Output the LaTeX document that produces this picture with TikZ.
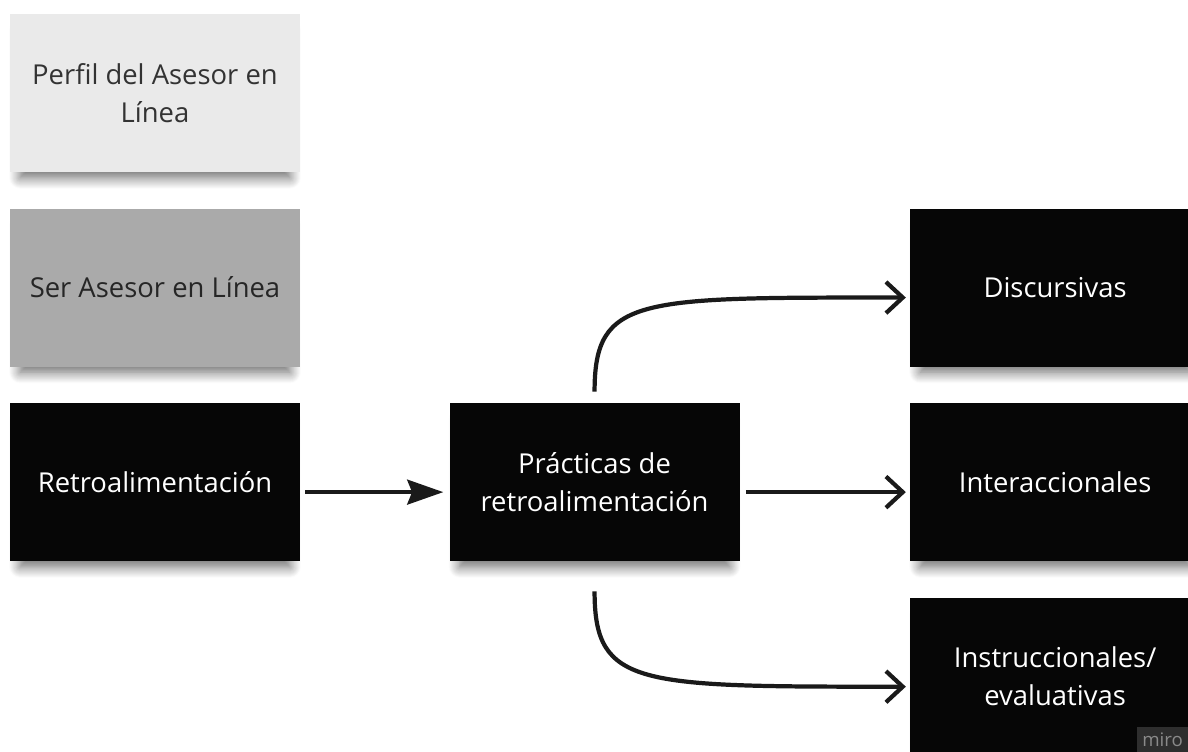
\documentclass[tikz,border=0pt]{standalone}
\usepackage{fontspec}
\setmainfont{Open Sans}
\usetikzlibrary{positioning,shadows.blur,arrows.meta}
\definecolor{grisclaro}{HTML}{EAEAEA}
\definecolor{grismedio}{HTML}{AAAAAA}
\definecolor{casinegro}{HTML}{060606}
\definecolor{trazo}{HTML}{1A1A1A}
\definecolor{marca}{HTML}{2E2E2E}
\definecolor{marcatexto}{HTML}{8A8A8A}
\begin{document}
\begin{tikzpicture}[node distance=0.9cm and 3.725cm, font=\fontsize{19.5}{27}\selectfont]
	\tikzstyle{tarjeta} = [rectangle, minimum width=7.25cm, minimum height=3.95cm, align=center, blur shadow={shadow xshift=0pt, shadow yshift=-0.3cm, shadow scale=0.93, shadow blur radius=0.3cm, shadow blur steps=12, shadow opacity=60}]
	\tikzstyle{claro} = [tarjeta, fill=grisclaro, text=black!80]
	\tikzstyle{medio} = [tarjeta, fill=grismedio, text=black!85]
	\tikzstyle{oscuro} = [tarjeta, fill=casinegro, text=white]
	\tikzstyle{flecha} = [-{Straight Barb[length=0.42cm, width=0.78cm]}, line width=3pt, draw=trazo, shorten >=0.1cm]
	\tikzstyle{llena} = [-{Stealth[length=0.9cm, width=0.62cm, inset=0.12cm]}, line width=3pt, draw=trazo]
	\path[use as bounding box, clip] (0,0) rectangle (29.7,-18.8);
	\node[claro] (perfil) at (3.875,-2.325) {Perfil del Asesor en\\Línea};
	\node[medio, below=of perfil] (ser) {Ser Asesor en Línea};
	\node[oscuro, below=of ser] (retro) {Retroalimentación};
	\node[oscuro, right=of retro] (prac) {Prácticas de\\retroalimentación};
	\node[oscuro, right=4.25cm of prac] (inter) {Interaccionales};
	\node[oscuro, above=of inter] (disc) {Discursivas};
	\node[oscuro, below=of inter] (instr) {Instruccionales/\\evaluativas};
	% marca de agua
	\node[fill=marca, text=marcatexto, font=\fontsize{13.3}{15}\selectfont, anchor=south east, minimum height=0.68cm, inner xsep=0.12cm] (miro) at (29.7,-18.85) {miro};
	\draw[llena] ([xshift=0.12cm, yshift=-0.25cm]retro.east) -- ([xshift=-0.15cm, yshift=-0.25cm]prac.west);
	\draw[flecha] ([xshift=0.15cm, yshift=-0.25cm]prac.east) -- ([yshift=-0.25cm]inter.west);
	\draw[flecha] ([yshift=0.28cm]prac.north) .. controls +(0,2.4) and +(-6.8,0) .. ([yshift=-0.25cm]disc.west);
	\draw[flecha] ([yshift=-0.75cm]prac.south) .. controls +(0,-2.4) and +(-6.8,0) .. ([yshift=-0.25cm]instr.west);
\end{tikzpicture}
\end{document}
